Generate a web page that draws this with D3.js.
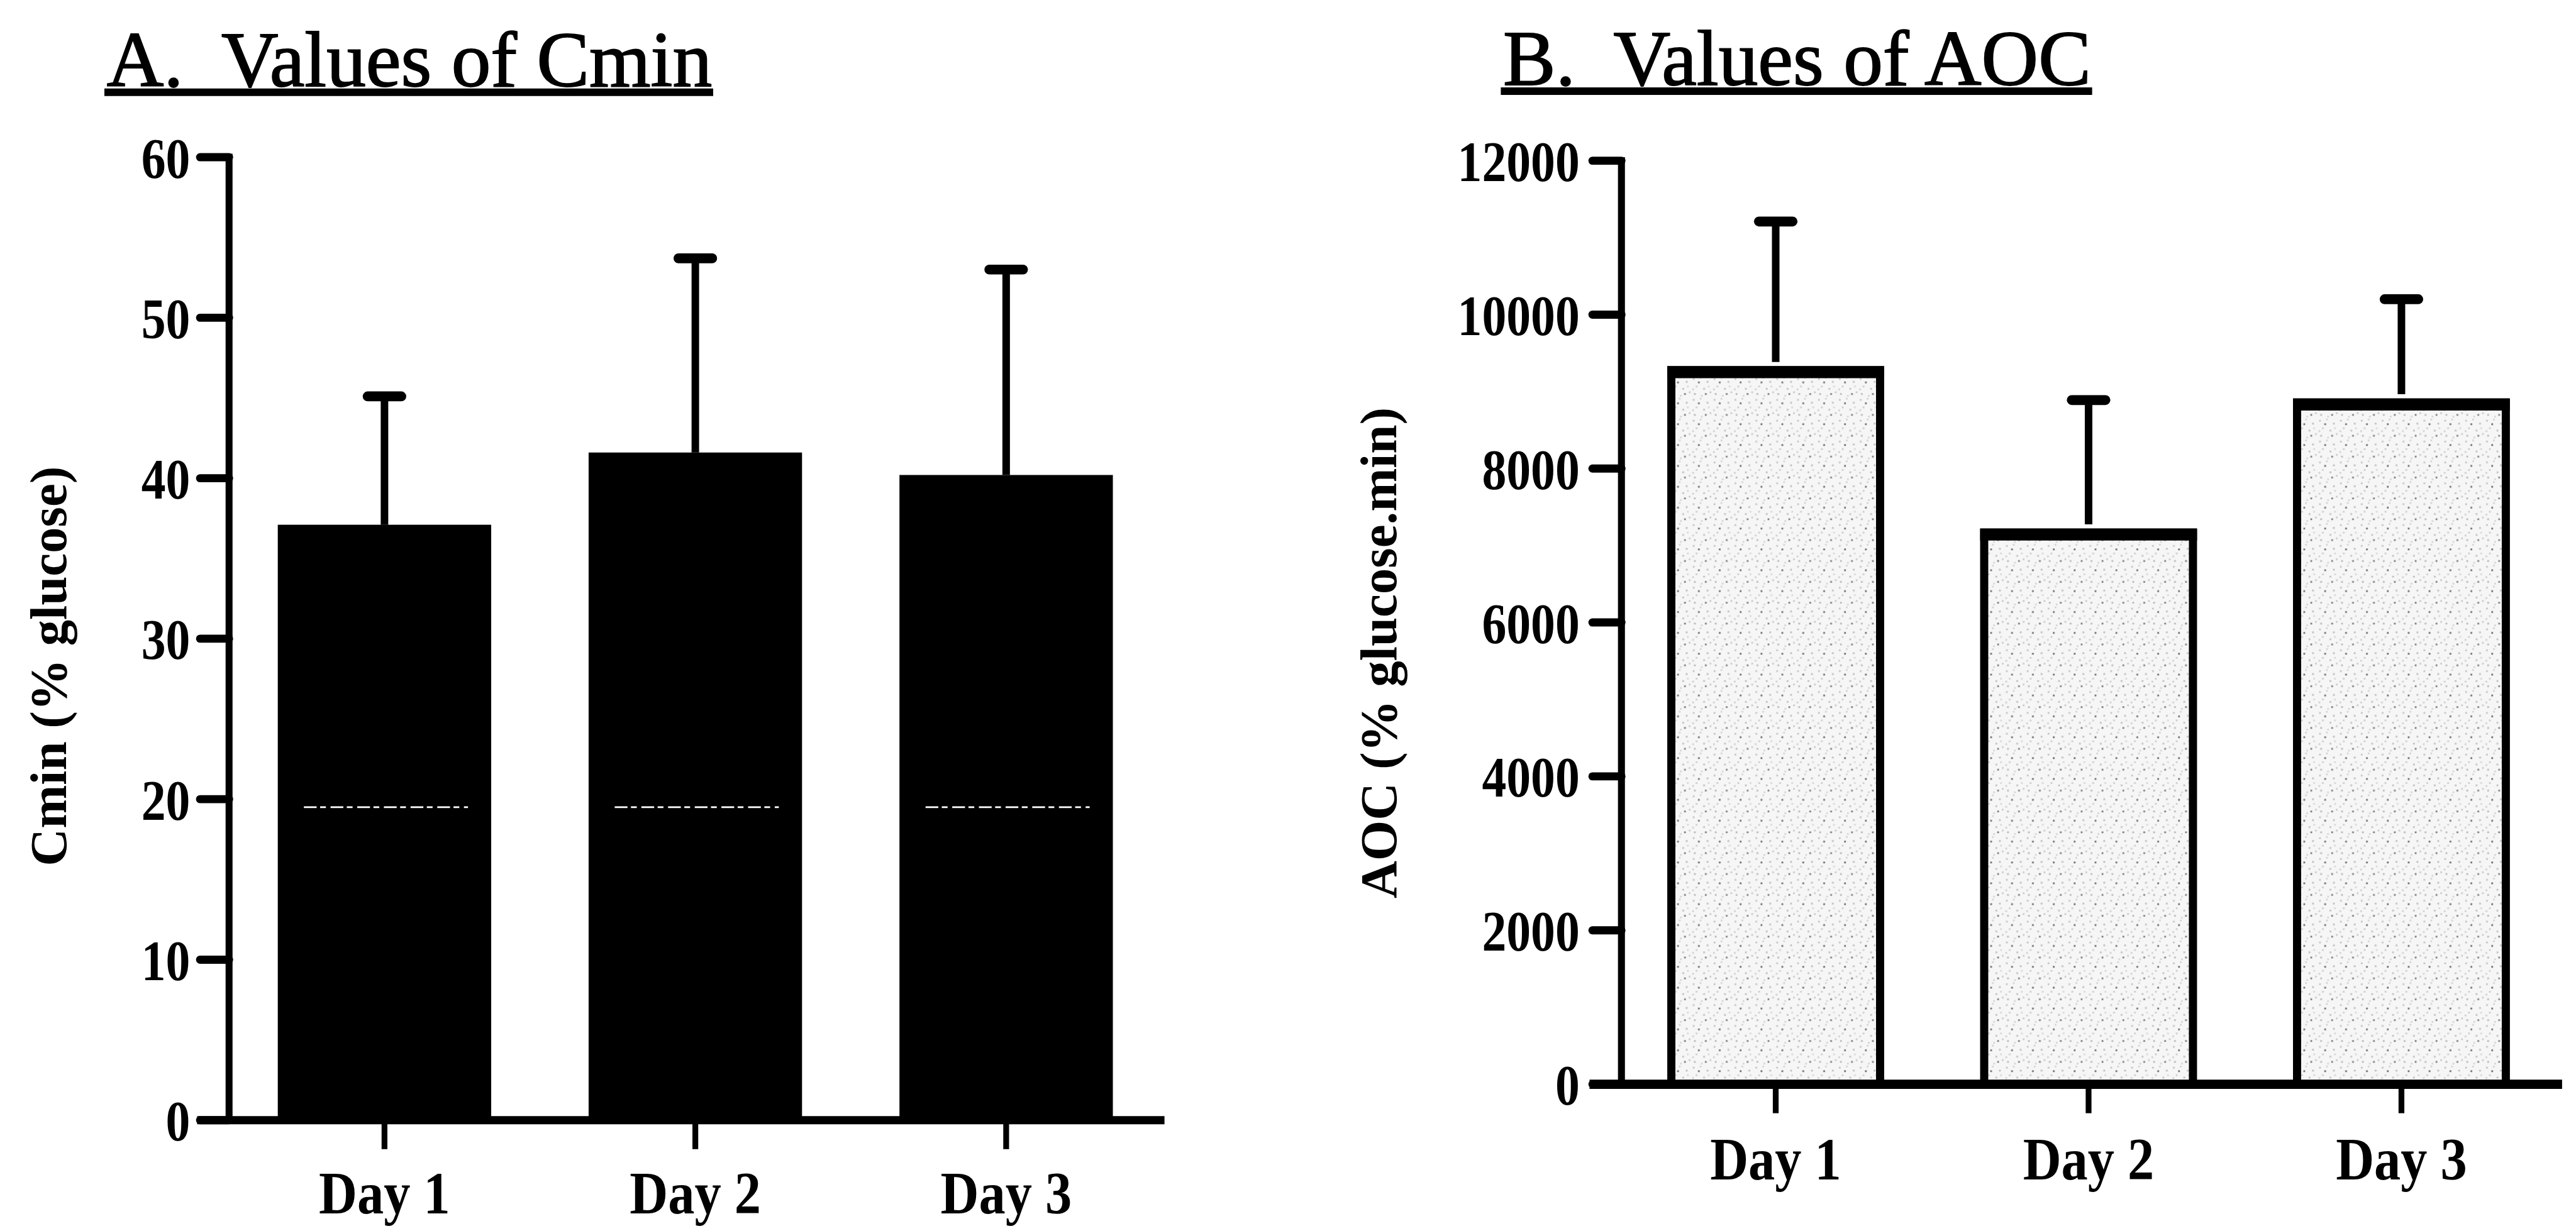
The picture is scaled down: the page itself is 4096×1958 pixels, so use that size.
<!DOCTYPE html>
<html><head><meta charset="utf-8">
<script src="https://cdn.jsdelivr.net/npm/d3@7"></script>
<style>html,body{margin:0;padding:0;background:#fff;overflow:hidden}</style>
</head><body>
<svg id="chart"></svg>
<script>
// ---------- data ----------
const days = ["Day 1", "Day 2", "Day 3"];
const cminMean = [37.1, 41.6, 40.2];
const cminErr = [8.0, 12.1, 12.8];
const aocMean = [9280, 7170, 8860];
const aocErr = [1930, 1720, 1340];
const cminTicks = [0, 10, 20, 30, 40, 50, 60];
const aocTicks = [0, 2000, 4000, 6000, 8000, 10000, 12000];
const titleA = "A.  Values of Cmin";
const titleB = "B.  Values of AOC";
const yLabelA = "Cmin (% glucose)";
const yLabelB = "AOC (% glucose.min)";

// ---------- layout (reference pixel units, scaled by viewBox) ----------
const W = 4442, H = 2123;
const svg = d3.select("#chart")
  .attr("width", 4096).attr("height", 1958)
  .attr("viewBox", `0 0 ${W} ${H}`)
  .style("font-family", "'Liberation Serif','Times New Roman',serif");

const defs = svg.append("defs");
const pat = defs.append("pattern").attr("id", "speckle")
  .attr("patternUnits", "userSpaceOnUse").attr("width", 36).attr("height", 36);
pat.append("rect").attr("width", 36).attr("height", 36).attr("fill", "#f6f6f6");
[[3,4,"#c4c4c4"],[15,2,"#d4d4d4"],[27,9,"#bcbcbc"],[8,17,"#cdcdcd"],[21,21,"#c0c0c0"],
 [32,27,"#cacaca"],[5,30,"#b8b8b8"],[17,33,"#d6d6d6"],[12,10,"#6a6a6a"],[29,17,"#d8d8d8"],
 [24,30,"#7a7a7a"],[2,22,"#d0d0d0"]].forEach(([x,y,c]) =>
  pat.append("rect").attr("x", x).attr("y", y).attr("width", 3).attr("height", 3).attr("fill", c));

function panel(cfg) {
  const g = svg.append("g");
  const y = d3.scaleLinear().domain(cfg.domain).range([cfg.y0, cfg.y1]);
  const x = d3.scalePoint().domain(days).range(cfg.xRange);

  // title + underline
  const t = g.append("text").attr("x", cfg.titleX).attr("y", cfg.titleY)
    .attr("font-size", 136).attr("fill", "#000").attr("stroke", "#000").attr("stroke-width", 2)
    .style("white-space", "pre").attr("xml:space", "preserve")
    .text(cfg.title);
  const tw = t.node().getComputedTextLength();
  g.append("line").attr("x1", cfg.titleX - 4).attr("x2", cfg.titleX + tw + 2)
    .attr("y1", cfg.titleY + 11).attr("y2", cfg.titleY + 11)
    .attr("stroke", "#000").attr("stroke-width", 13);

  // bars
  cfg.means.forEach((m, i) => {
    const cx = x(days[i]);
    if (cfg.pattern) {
      g.append("rect").attr("x", cx - cfg.bw / 2).attr("y", y(m))
        .attr("width", cfg.bw).attr("height", y(0) - y(m))
        .attr("fill", "url(#speckle)").attr("stroke", "#000").attr("stroke-width", 14);
      g.append("line").attr("x1", cx - cfg.bw / 2 - 7).attr("x2", cx + cfg.bw / 2 + 7)
        .attr("y1", y(m) + 4).attr("y2", y(m) + 4).attr("stroke", "#000").attr("stroke-width", 20);
    } else {
      g.append("rect").attr("x", cx - cfg.bw / 2).attr("y", y(m))
        .attr("width", cfg.bw).attr("height", y(0) - y(m)).attr("fill", "#000");
      g.append("line").attr("x1", cx - cfg.bw / 2 + 45).attr("x2", cx + cfg.bw / 2 - 40)
        .attr("y1", y(cfg.whiteLine)).attr("y2", y(cfg.whiteLine))
        .attr("stroke", "#fff").attr("stroke-width", 3).attr("stroke-dasharray", "22 6 10 8");
    }
    // error bar
    const top = y(m + cfg.errs[i]);
    g.append("line").attr("x1", cx).attr("x2", cx).attr("y1", y(m) - (cfg.pattern ? 14 : 0)).attr("y2", top)
      .attr("stroke", "#000").attr("stroke-width", 13);
    g.append("line").attr("x1", cx - 29).attr("x2", cx + 29).attr("y1", top).attr("y2", top)
      .attr("stroke", "#000").attr("stroke-width", 17).attr("stroke-linecap", "round");
  });

  // y axis
  g.append("line").attr("x1", cfg.axisX).attr("x2", cfg.axisX)
    .attr("y1", y(cfg.domain[1]) - 6).attr("y2", y(0))
    .attr("stroke", "#000").attr("stroke-width", 12);
  cfg.ticks.forEach(v => {
    g.append("line").attr("x1", cfg.axisX - 50).attr("x2", cfg.axisX)
      .attr("y1", y(v)).attr("y2", y(v))
      .attr("stroke", "#000").attr("stroke-width", 14).attr("stroke-linecap", "round");
    g.append("text")
      .attr("transform", `translate(${cfg.labelX},${y(v)}) scale(0.86,1)`)
      .attr("dy", "0.36em").attr("text-anchor", "end")
      .attr("font-size", 98).attr("font-weight", "bold").text(v);
  });

  // x axis
  g.append("line").attr("x1", cfg.axisX - 55).attr("x2", cfg.xEnd)
    .attr("y1", y(0)).attr("y2", y(0)).attr("stroke", "#000").attr("stroke-width", cfg.xAxisW);
  days.forEach(d => {
    g.append("line").attr("x1", x(d)).attr("x2", x(d))
      .attr("y1", y(0)).attr("y2", y(0) + 50)
      .attr("stroke", "#000").attr("stroke-width", 10);
    g.append("text")
      .attr("transform", `translate(${x(d)},${cfg.dayY}) scale(0.88,1)`)
      .attr("text-anchor", "middle").attr("font-size", 104).attr("font-weight", "bold").text(d);
  });

  // y label
  g.append("text")
    .attr("transform", `translate(${cfg.yLabX},${cfg.yLabY}) rotate(-90)`)
    .attr("text-anchor", "middle").attr("font-size", 90).attr("font-weight", "bold")
    .text(cfg.yLabel);
}

panel({
  title: titleA, titleX: 184, titleY: 148,
  domain: [0, 60], y0: 1932, y1: 271, ticks: cminTicks,
  xRange: [663, 1735], bw: 368, means: cminMean, errs: cminErr,
  axisX: 395, labelX: 328, xEnd: 2008, xAxisW: 14, dayY: 2093,
  yLabel: yLabelA, yLabX: 114, yLabY: 1149, pattern: false, whiteLine: 19.5
});

panel({
  title: titleB, titleX: 2592, titleY: 146,
  domain: [0, 12000], y0: 1870, y1: 277, ticks: aocTicks,
  xRange: [3062, 4141], bw: 360, means: aocMean, errs: aocErr,
  axisX: 2796, labelX: 2724, xEnd: 4418, xAxisW: 16, dayY: 2034,
  yLabel: yLabelB, yLabX: 2408, yLabY: 1126, pattern: true
});
</script>
</body></html>
